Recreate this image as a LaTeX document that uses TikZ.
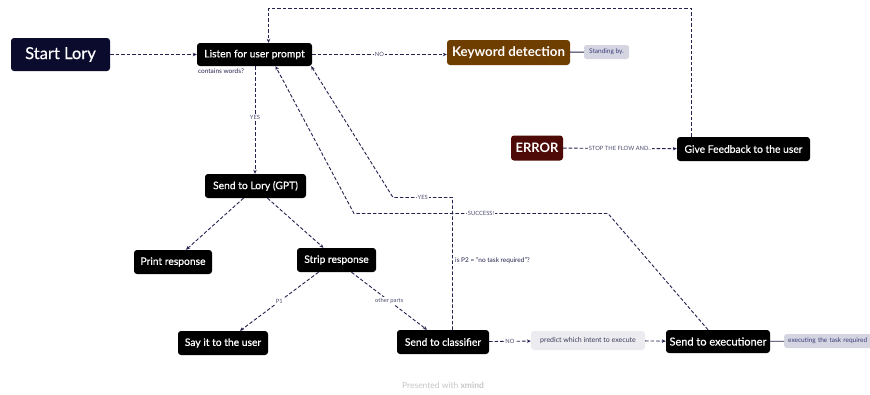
\documentclass[tikz,border=0pt]{standalone}
\usepackage{fontspec}
\setmainfont{Lato}
\newfontfamily\medf{Lato}[FakeBold=0.6]
\usetikzlibrary{arrows.meta}
\definecolor{navy}{HTML}{0B0B2E}
\definecolor{lineC}{HTML}{23234F}
\definecolor{brownC}{HTML}{6E3D00}
\definecolor{redC}{HTML}{4D0A06}
\definecolor{tagC}{HTML}{D5D5E2}
\definecolor{tagT}{HTML}{3A3A7A}
\definecolor{predC}{HTML}{ECECF0}
\definecolor{predT}{HTML}{3A3A5A}
\tikzset{
  box/.style={rounded corners=3pt, fill=black, text=white, inner sep=0pt, minimum height=24pt, font=\medf\fontsize{10.3}{12}\selectfont},
  tag/.style={rounded corners=2.5pt, fill=tagC, text=tagT, inner sep=0pt, minimum height=14pt, font=\fontsize{6.5}{7}\selectfont},
  flow/.style={draw=lineC, line width=0.9pt, dash pattern=on 3.5pt off 2pt, -{Stealth[length=4pt,width=3.5pt]}},
  solidl/.style={draw=lineC, line width=0.9pt},
  lbl/.style={fill=white, text=lineC!80, inner sep=1pt, font=\fontsize{5.8}{6}\selectfont},
  freelbl/.style={text=lineC, inner sep=0pt, font=\fontsize{6.5}{7}\selectfont},
}
\begin{document}
\begin{tikzpicture}[x=1pt,y=-1pt]
\clip (0,0) rectangle (870,394);
\fill[white] (0,0) rectangle (870,394);
% nodes
\node[box, fill=navy, minimum width=99pt, minimum height=33pt, font=\medf\fontsize{16.5}{18}\selectfont] (start) at (60.5,54.5) {Start Lory};
\node[box, minimum width=115pt, minimum height=23pt] (listen) at (254.5,54.5) {Listen for user prompt};
\node[box, fill=brownC, minimum width=123pt, minimum height=25pt, font=\fontsize{13.3}{15}\selectfont\bfseries] (kw) at (508.5,52.5) {Keyword detection};
\node[tag, minimum width=45pt] (stand) at (606.5,52) {Standing by.};
\node[box, fill=redC, minimum width=52pt, minimum height=25pt, font=\fontsize{13}{15}\selectfont\bfseries] (err) at (537,148) {ERROR};
\node[box, minimum width=133pt] (fb) at (743.5,149) {Give Feedback to the user};
\node[box, minimum width=101pt] (gpt) at (255.5,186) {Send to Lory (GPT)};
\node[box, minimum width=78pt] (print) at (173,262) {Print response};
\node[box, minimum width=79pt] (strip) at (336.5,260) {Strip response};
\node[box, minimum width=90pt] (say) at (223,343) {Say it to the user};
\node[box, minimum width=92pt] (cls) at (443,342) {Send to classifier};
\node[rounded corners=3pt, fill=predC, text=predT, inner sep=0pt, minimum width=114pt, minimum height=19pt, font=\fontsize{7}{8}\selectfont] (pred) at (588,340.5) {predict which intent to execute};
\node[box, minimum width=104pt, minimum height=23pt, font=\medf\fontsize{11}{12}\selectfont] (exe) at (718,341.5) {Send to executioner};
\node[tag, minimum width=96pt, anchor=west, text width=92pt, align=left] (exec) at (784,341) {\hspace*{2pt}executing the task required};
\node[freelbl] (cw) at (221,71.5) {contains words?};
\node[freelbl, anchor=west] (p2) at (455,261) {is P2 = "no task required"?};
\node[text=gray!45, inner sep=0pt, font=\fontsize{8.5}{10}\selectfont] (xm) at (443,385) {Presented with \textbf{xmind}};
% bend coordinates
\coordinate (t1) at (691.5,8.5);
\coordinate (t2) at (268.5,8.5);
\coordinate (y1) at (452.5,197.5);
\coordinate (y2) at (393,197.5);
\coordinate (s1) at (608,213.5);
\coordinate (s2) at (354,213.5);
% connectors
\draw[flow] (start) -- (listen);
\draw[flow] (listen.east) -- node[lbl]{NO} (kw.west |- listen.east);
\draw[solidl] (kw) -- (stand);
\draw[flow] ([xshift=0.5pt]listen.south) -- node[lbl, pos=0.48]{YES} ([xshift=-0.5pt]gpt.north);
\draw[flow] ([xshift=-12pt]gpt.south) -- ([xshift=13pt]print.north);
\draw[flow] ([xshift=12pt]gpt.south) -- ([xshift=-13pt]strip.north);
\draw[flow] ([xshift=-18pt]strip.south) -- node[lbl]{P1} ([xshift=17pt]say.north);
\draw[flow] ([xshift=15pt]strip.south) -- node[lbl]{other parts} ([xshift=-16pt]cls.north);
\draw[flow] (cls) -- node[lbl]{NO} (pred);
\draw[flow] (pred) -- (exe);
\draw[solidl] (exe) -- (exec);
\draw[flow] (err) -- node[lbl]{STOP THE FLOW AND..} (fb);
\draw[flow] (fb.north -| t1) -- (t1) -- (t2) -- (t2 |- listen.north);
\draw[flow] (cls.north -| y1) -- (y1) -- node[lbl]{YES} (y2) -- ([xshift=-1pt]listen.south east);
\draw[flow] ([xshift=-10pt]exe.north) -- (s1) -- node[lbl]{SUCCESS!} (s2) -- ([xshift=21pt]listen.south);
\end{tikzpicture}
\end{document}
